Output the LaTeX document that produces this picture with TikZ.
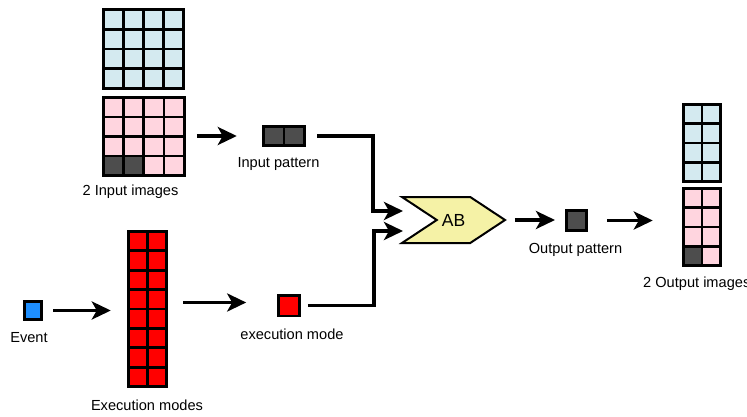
\documentclass[tikz,border=0pt]{standalone}
\usepackage{fontspec}
\setmainfont{Liberation Sans}
\usetikzlibrary{arrows.meta,matrix,positioning,shapes.symbols}
\definecolor{CellBlue}{HTML}{D4EAF0}
\definecolor{CellPink}{HTML}{FFD5DF}
\definecolor{CellDark}{HTML}{4D4D4D}
\definecolor{CellRed}{HTML}{FF0000}
\definecolor{EventBlue}{HTML}{1E8FFF}
\definecolor{AbYellow}{HTML}{F5F2A6}
\tikzset{
  cell/.style={draw,line width=2.8pt,inner sep=0pt},
  cellgrid/.style n args={3}{matrix of nodes,nodes in empty cells,inner sep=0pt,
    column sep=-2.8pt,row sep=-2.8pt,
    nodes={cell,fill=#1,minimum width=#2,minimum height=#3}},
  lbl/.style={font=\fontsize{14.6}{17}\selectfont,inner sep=0pt},
  arr/.style={line width=3.5pt,-{Stealth[length=19pt,width=18pt,inset=5pt]}},
}

\begin{document}
\begin{tikzpicture}[x=1pt,y=-1pt]
  \useasboundingbox (0,0) rectangle (747,417);
  % input images
  \matrix (blueIn) [cellgrid={CellBlue}{20.05pt}{19.8pt}] at (143.5,49)
    { & & & \\ & & & \\ & & & \\ & & & \\ };
  \matrix (pinkIn) [cellgrid={CellPink}{20.2pt}{19.55pt}] at (143.8,136.5)
    { & & & \\ & & & \\ & & & \\ |[fill=CellDark]| & |[fill=CellDark]| & & \\ };
  \node[lbl] (lblInImg) at (130.5,192) {2 Input images};
  \matrix (inPat) [cellgrid={CellDark}{20.6pt}{19.2pt}] at (284,136) { & \\ };
  \node[lbl] (lblInPat) at (278.5,164) {Input pattern};
  % event and modes
  \node[cell,fill=EventBlue,minimum width=17.2pt,minimum height=18.2pt] (event) at (33,310.5) {};
  \node[lbl] (lblEvent) at (29,338) {Event};
  \matrix (modes) [cellgrid={CellRed}{19.1pt}{19.4pt}] at (147.5,309)
    { & \\ & \\ & \\ & \\ & \\ & \\ & \\ & \\ };
  \node[lbl] (lblModes) at (147,405) {Execution modes};
  \node[cell,fill=CellRed,minimum size=20.8pt] (execMode) at (289,305.5) {};
  \node[lbl] (lblMode) at (292,334) {execution mode};
  % AB block
  \node[draw,line width=2pt,fill=AbYellow,signal,signal from=west,signal to=east,
    signal pointer angle=67,minimum width=103pt,minimum height=46pt,inner sep=0pt,
    font=\fontsize{17.5}{20}\selectfont] (ab) at (453.5,220) {AB};
  \coordinate (abIn1) at (403,211);
  \coordinate (abIn2) at (403,231);
  % output
  \node[cell,fill=CellDark,minimum size=20.2pt] (outPat) at (576.5,220.5) {};
  \node[lbl] (lblOutPat) at (575.5,250) {Output pattern};
  \matrix (blueOut) [cellgrid={CellBlue}{18.6pt}{19.3pt}] at (702,143)
    { & \\ & \\ & \\ & \\ };
  \matrix (pinkOut) [cellgrid={CellPink}{18.6pt}{19.3pt}] at (702,227)
    { & \\ & \\ & \\ |[fill=CellDark]| & \\ };
  \node[lbl,anchor=west] (lblOutImg) at (643,284) {2 Output images};
  % connectors
  \draw[arr,shorten <=11pt,shorten >=25pt] (pinkIn.east |- inPat) -- (inPat.west);
  \draw[arr,shorten <=11pt] (inPat.east) -- ++(67,0) |- (abIn1);
  \draw[arr,shorten <=10pt,shorten >=16pt] (event.east) -- (event.east -| modes.west);
  \draw[arr,shorten <=15pt,shorten >=31pt] ([yshift=3pt]execMode.west -| modes.east) -- ([yshift=3pt]execMode.west);
  \draw[arr,shorten <=7pt] (execMode.east) -- ++(73,0) |- (abIn2);
  \draw[arr,shorten <=8pt,shorten >=10pt] (ab.east) -- (outPat.west |- ab.east);
  \draw[arr,shorten <=19pt,shorten >=29pt] (outPat.east) -- (outPat.east -| pinkOut.west);
\end{tikzpicture}
\end{document}
